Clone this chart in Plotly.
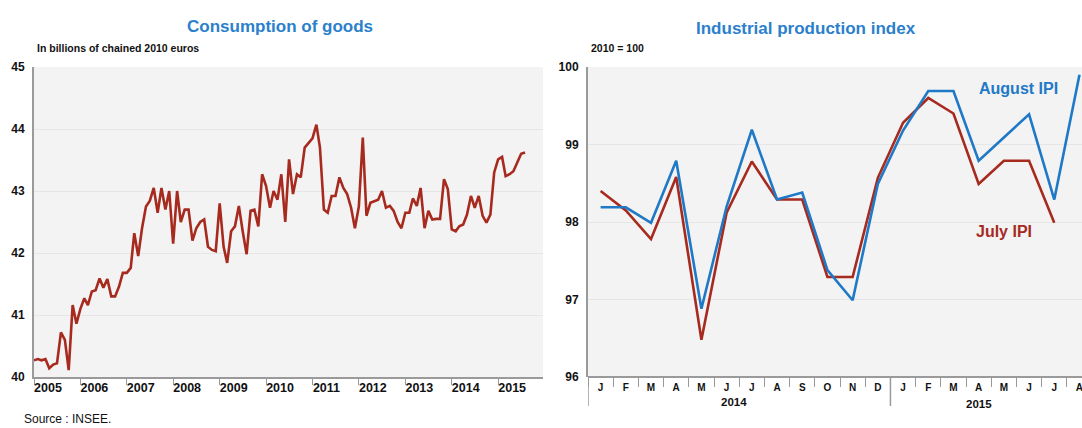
import pandas as pd
import plotly.graph_objects as go

# ---------------- Data ----------------
# Consumption of goods, monthly, Jan 2005 - Aug 2015 (billions of chained 2010 euros)
cons_start = "2005-01-01"
consumption = [
    40.27, 40.29, 40.27, 40.29, 40.14, 40.20, 40.22, 40.72, 40.60, 40.11, 41.16, 40.86,   # 2005
    41.10, 41.27, 41.16, 41.38, 41.40, 41.59, 41.44, 41.58, 41.30, 41.30, 41.46, 41.68,   # 2006
    41.68, 41.76, 42.32, 41.95, 42.40, 42.75, 42.84, 43.05, 42.65, 43.05, 42.70, 43.00,   # 2007
    42.15, 43.00, 42.50, 42.70, 42.70, 42.20, 42.40, 42.50, 42.54, 42.10, 42.05, 42.03,   # 2008
    42.80, 42.10, 41.84, 42.35, 42.43, 42.76, 42.35, 41.98, 42.68, 42.70, 42.43, 43.27,   # 2009
    43.08, 42.73, 43.00, 42.86, 43.27, 42.50, 43.51, 42.95, 43.27, 43.22, 43.70, 43.78,   # 2010
    43.85, 44.07, 43.70, 42.70, 42.65, 42.92, 42.92, 43.22, 43.05, 42.95, 42.73, 42.40,   # 2011
    42.75, 43.86, 42.60, 42.81, 42.84, 42.86, 43.00, 42.73, 42.76, 42.68, 42.50, 42.40,   # 2012
    42.65, 42.65, 42.88, 42.76, 43.05, 42.40, 42.68, 42.54, 42.55, 42.55, 43.19, 43.03,   # 2013
    42.38, 42.35, 42.43, 42.46, 42.62, 42.92, 42.73, 42.92, 42.60, 42.49, 42.62, 43.30,   # 2014
    43.51, 43.55, 43.24, 43.27, 43.32, 43.46, 43.60, 43.62,                               # 2015
]
years = [str(y) for y in range(2005, 2016)]
cons_yticks = [40, 41, 42, 43, 44, 45]

# Industrial production index (2010 = 100), Jan 2014 - Aug 2015
months = ["J", "F", "M", "A", "M", "J", "J", "A", "S", "O", "N", "D",
          "J", "F", "M", "A", "M", "J", "J", "A"]
ipi_july = [98.40, 98.15, 97.78, 98.58, 96.48, 98.12, 98.78, 98.29, 98.29, 97.29,
            97.29, 98.57, 99.28, 99.60, 99.40, 98.49, 98.79, 98.79, 97.99]
ipi_august = [98.19, 98.19, 97.99, 98.79, 96.88, 98.20, 99.19, 98.29, 98.38, 97.38,
              96.99, 98.49, 99.18, 99.69, 99.69, 98.79, 99.09, 99.39, 98.29, 99.90]
ipi_yticks = [96, 97, 98, 99, 100]
ipi_years = ["2014", "2015"]

# ---------------- Styles ----------------
RED = "#a72a1f"
BLUE = "#1f79c6"
TITLE_BLUE = "#2b80cc"
FONT = "Liberation Sans, Arial, sans-serif"
PLOT_BG = "#f3f3f3"
GRID = "#e6e6e6"
AXIS = "#9a9a9a"

W, H = 1082, 428
OFF = 0  # body margin removed by post_script below


def px_x(p):
    return (p - OFF) / W


def px_y(p):
    return 1 - (p - OFF) / H


dates = pd.date_range(cons_start, periods=len(consumption), freq="MS")
mx = list(range(len(months)))
X2_MAX = 19.1

fig = go.Figure()
fig.add_trace(go.Scatter(x=dates, y=consumption, mode="lines",
                         line=dict(color=RED, width=2.6), xaxis="x", yaxis="y",
                         showlegend=False, hoverinfo="skip"))
fig.add_trace(go.Scatter(x=mx[:len(ipi_july)], y=ipi_july, mode="lines",
                         line=dict(color=RED, width=2.6), xaxis="x2", yaxis="y2",
                         showlegend=False, hoverinfo="skip"))
fig.add_trace(go.Scatter(x=mx[:len(ipi_august)], y=ipi_august, mode="lines",
                         line=dict(color=BLUE, width=2.6), xaxis="x2", yaxis="y2",
                         showlegend=False, hoverinfo="skip", cliponaxis=False))

ydom = [px_y(377), px_y(67)]
tickfont = dict(family=FONT, size=12, color="#111")

fig.update_layout(
    width=W, height=H,
    margin=dict(l=0, r=0, t=0, b=0, pad=0),
    paper_bgcolor="white",
    plot_bgcolor=PLOT_BG,
    font=dict(family=FONT),
    xaxis=dict(
        domain=[px_x(34), px_x(543)], anchor="y", type="date", automargin=False,
        range=["2005-01-01", "2015-12-20"],
        tickmode="array",
        tickvals=[f"{y}-01-01" for y in years],
        ticktext=[f"<b>{y}</b>" for y in years],
        ticks="", ticklabelshift=14, ticklabelstandoff=-2,
        minor=dict(ticks="outside", ticklen=6, tickcolor=AXIS, tickwidth=1,
                   tickmode="linear", tick0="2005-01-01", dtick="M12", showgrid=False),
        showline=True, linecolor=AXIS, linewidth=2,
        showgrid=False, zeroline=False,
        tickfont=dict(family=FONT, size=12.5, color="#111"),
    ),
    yaxis=dict(
        domain=ydom, anchor="x", range=[40, 45], automargin=False,
        tickmode="array", tickvals=cons_yticks,
        ticktext=[f"<b>{v}</b>" for v in cons_yticks],
        ticks="", showline=True, linecolor=AXIS, linewidth=2,
        showgrid=True, gridcolor=GRID, gridwidth=1, zeroline=False,
        tickfont=tickfont, ticklabelstandoff=5,
    ),
    xaxis2=dict(
        domain=[px_x(588), 1.0], anchor="y2", automargin=False,
        range=[-0.5, X2_MAX],
        tickmode="array",
        tickvals=mx,
        ticktext=[f"<b>{m}</b>" for m in months],
        ticks="", ticklabelstandoff=3, ticklabeloverflow="allow",
        minor=dict(ticks="outside", ticklen=9, tickcolor=AXIS, tickwidth=1,
                   tickmode="linear", tick0=-0.5, dtick=1, showgrid=False),
        showline=False, showgrid=False, zeroline=False,
        tickfont=dict(family=FONT, size=10, color="#111"),
    ),
    yaxis2=dict(
        domain=ydom, anchor="x2", range=[96, 100], automargin=False,
        tickmode="array", tickvals=ipi_yticks,
        ticktext=[f"<b>{v}</b>" for v in ipi_yticks],
        ticks="", showline=True, linecolor=AXIS, linewidth=2,
        showgrid=True, gridcolor=GRID, gridwidth=1, zeroline=False,
        tickfont=tickfont, ticklabelstandoff=5,
    ),
)

# right chart bottom axis line and year separators
fig.add_shape(type="line", xref="x2", yref="paper", x0=-0.5, x1=X2_MAX,
              y0=ydom[0], y1=ydom[0], line=dict(color=AXIS, width=2))
for xb in [-0.5, 11.5]:
    fig.add_shape(type="line", xref="x2", yref="paper", x0=xb, x1=xb,
                  y0=ydom[0], y1=px_y(406), line=dict(color=AXIS, width=1.5))

annots = [
    dict(text="<b>Consumption of goods</b>", x=px_x(280), y=px_y(27), xref="paper", yref="paper",
         font=dict(family=FONT, size=17, color=TITLE_BLUE), xanchor="center", yanchor="middle"),
    dict(text="<b>Industrial production index</b>", x=px_x(806), y=px_y(28), xref="paper", yref="paper",
         font=dict(family=FONT, size=17, color=TITLE_BLUE), xanchor="center", yanchor="middle"),
    dict(text="<b>In billions of chained 2010 euros</b>", x=px_x(35), y=px_y(48), xref="paper", yref="paper",
         font=dict(family=FONT, size=10.5, color="#111"), xanchor="left", yanchor="middle"),
    dict(text="<b>2010 = 100</b>", x=px_x(589), y=px_y(48), xref="paper", yref="paper",
         font=dict(family=FONT, size=10.5, color="#111"), xanchor="left", yanchor="middle"),
    dict(text="Source : INSEE.", x=px_x(22), y=px_y(419), xref="paper", yref="paper",
         font=dict(family=FONT, size=12, color="#111"), xanchor="left", yanchor="middle"),
    dict(text="<b>" + ipi_years[0] + "</b>", x=5.3, y=px_y(402), xref="x2", yref="paper",
         font=dict(family=FONT, size=11.5, color="#111"), xanchor="center", yanchor="middle"),
    dict(text="<b>" + ipi_years[1] + "</b>", x=15.0, y=px_y(404), xref="x2", yref="paper",
         font=dict(family=FONT, size=11.5, color="#111"), xanchor="center", yanchor="middle"),
    dict(text="<b>August IPI</b>", x=16.6, y=99.72, xref="x2", yref="y2",
         font=dict(family=FONT, size=16, color=BLUE), xanchor="center", yanchor="middle"),
    dict(text="<b>July IPI</b>", x=16.0, y=97.88, xref="x2", yref="y2",
         font=dict(family=FONT, size=16, color=RED), xanchor="center", yanchor="middle"),
]
for a in annots:
    a["showarrow"] = False
    fig.add_annotation(**a)

fig.write_html(
    "out.html",
    config={"displayModeBar": False},
    post_script="document.body.style.margin='0px';document.body.style.overflow='hidden';",
)
